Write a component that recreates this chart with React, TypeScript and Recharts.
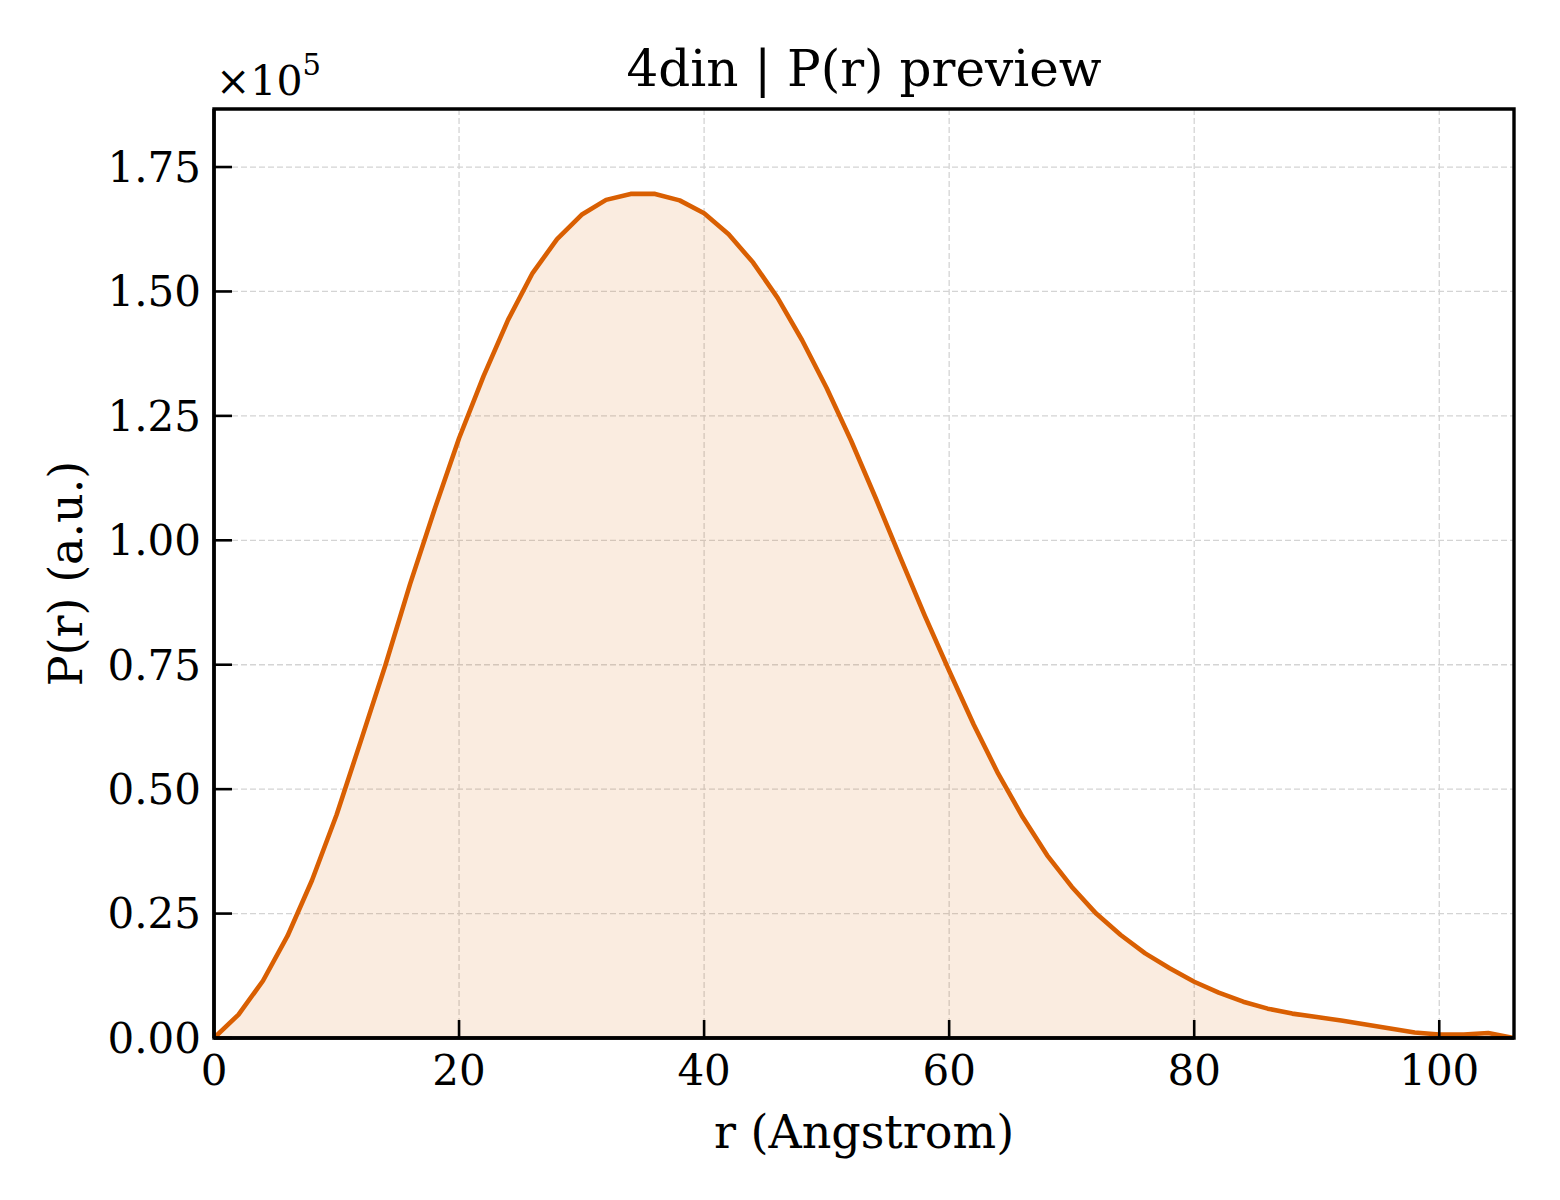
import React from 'react';
import { AreaChart, Area, XAxis, YAxis, CartesianGrid, ReferenceArea } from 'recharts';

// r (Angstrom)
const rValues = [
  0, 2, 4, 6, 8, 10, 12, 14, 16, 18, 20, 22, 24, 26, 28, 30, 32, 34, 36, 38,
  40, 42, 44, 46, 48, 50, 52, 54, 56, 58, 60, 62, 64, 66, 68, 70, 72, 74, 76, 78,
  80, 82, 84, 86, 88, 90, 92, 94, 96, 98, 100, 102, 104, 106.1,
];

// P(r) (a.u.)
const pValues = [
  0, 4700, 11500, 20500, 31700, 44800, 59800, 75000, 91200, 106200,
  120500, 133000, 144300, 153700, 160500, 165400, 168400, 169600, 169600, 168300,
  165700, 161500, 155800, 148700, 140200, 130600, 120000, 108500, 96600, 84900,
  73800, 63000, 53100, 44400, 36700, 30400, 25000, 20700, 17000, 14000,
  11300, 9100, 7300, 5900, 4900, 4200, 3500, 2700, 1900, 1100,
  700, 700, 1000, 0,
];

const xTicks = [0, 20, 40, 60, 80, 100];
const yTicks = [0, 25000, 50000, 75000, 100000, 125000, 150000, 175000];
const xDomain = [0, 106.1];
const yDomain = [0, 186660];

const TITLE = '4din | P(r) preview';
const X_LABEL = 'r (Angstrom)';
const Y_LABEL = 'P(r) (a.u.)';
const Y_EXP = 5;

const data = rValues.map((r, i) => ({ r, p: pValues[i] }));

const W = 1560;
const H = 1200;
const M_TOP = 101;
const M_RIGHT = 54;
const Y_AXIS_W = 206;
const X_AXIS_H = 170;
const PLOT_L = Y_AXIS_W;
const PLOT_R = W - M_RIGHT;
const PLOT_T = M_TOP;
const PLOT_B = H - X_AXIS_H;

const FONT = '"DejaVu Serif", serif';
const LINE_COLOR = '#D95F02';
const TICK_LEN = 18;
const X_TICK_MARGIN = 17;
const Y_TICK_MARGIN = 13;
const TICK_FONT = 42;

function XTick(props: any) {
  const { x, y, payload } = props;
  const axisY = y - X_TICK_MARGIN;
  return (
    <g>
      <line x1={x} x2={x} y1={axisY} y2={axisY - TICK_LEN} stroke="#000" strokeWidth={2.6} />
      <text x={x} y={y} dy="0.71em" textAnchor="middle" fontSize={TICK_FONT} fontFamily={FONT} fill="#000">
        {payload.value}
      </text>
    </g>
  );
}

function YTick(props: any) {
  const { x, y, payload } = props;
  const axisX = x + Y_TICK_MARGIN;
  return (
    <g>
      <line x1={axisX} x2={axisX + TICK_LEN} y1={y} y2={y} stroke="#000" strokeWidth={2.6} />
      <text x={x} y={y} dy="0.355em" textAnchor="end" fontSize={TICK_FONT} fontFamily={FONT} fill="#000">
        {(payload.value / Math.pow(10, Y_EXP)).toFixed(2)}
      </text>
    </g>
  );
}

export default function App() {
  return (
    <div style={{ position: 'relative', width: W, height: H, background: '#fff' }}>
      <AreaChart
        width={W}
        height={H}
        data={data}
        margin={{ top: M_TOP, right: M_RIGHT, bottom: 0, left: 0 }}
      >
        <CartesianGrid stroke="#d4d4d4" strokeWidth={1.3} strokeDasharray="6 3" />
        <XAxis
          dataKey="r"
          type="number"
          domain={xDomain}
          ticks={xTicks}
          allowDataOverflow
          height={X_AXIS_H}
          tickSize={0}
          tickMargin={X_TICK_MARGIN}
          tickLine={false}
          axisLine={{ stroke: '#000', strokeWidth: 3.4 }}
          tick={<XTick />}
          interval={0}
        />
        <YAxis
          type="number"
          domain={yDomain}
          ticks={yTicks}
          allowDataOverflow
          width={Y_AXIS_W}
          tickSize={0}
          tickMargin={Y_TICK_MARGIN}
          tickLine={false}
          axisLine={{ stroke: '#000', strokeWidth: 3.4 }}
          tick={<YTick />}
          interval={0}
        />
        <Area
          type="linear"
          dataKey="p"
          stroke={LINE_COLOR}
          strokeWidth={4.6}
          strokeLinejoin="round"
          fill={LINE_COLOR}
          fillOpacity={0.12}
          dot={false}
          activeDot={false}
          isAnimationActive={false}
        />
        <ReferenceArea
          x1={xDomain[0]}
          x2={xDomain[1]}
          y1={yDomain[0]}
          y2={yDomain[1]}
          fill="none"
          fillOpacity={0}
          stroke="#000"
          strokeWidth={3.4}
          ifOverflow="visible"
        />
      </AreaChart>
      <svg
        width={W}
        height={H}
        style={{ position: 'absolute', left: 0, top: 0, pointerEvents: 'none' }}
      >
        <text
          x={(PLOT_L + PLOT_R) / 2}
          y={PLOT_T - 23}
          textAnchor="middle"
          fontSize={50}
          fontFamily={FONT}
          fill="#000"
        >
          {TITLE}
        </text>
        <text x={PLOT_L + 2} y={PLOT_T - 14} fontSize={41} fontFamily={FONT} fill="#000">
          ×10
          <tspan dy={-20} fontSize={29}>{Y_EXP}</tspan>
        </text>
        <text
          x={(PLOT_L + PLOT_R) / 2}
          y={PLOT_B + 110}
          textAnchor="middle"
          fontSize={46}
          fontFamily={FONT}
          fill="#000"
        >
          {X_LABEL}
        </text>
        <text
          x={74}
          y={(PLOT_T + PLOT_B) / 2}
          textAnchor="middle"
          fontSize={46}
          fontFamily={FONT}
          fill="#000"
          transform={`rotate(-90 74 ${(PLOT_T + PLOT_B) / 2})`}
        >
          {Y_LABEL}
        </text>
      </svg>
    </div>
  );
}
